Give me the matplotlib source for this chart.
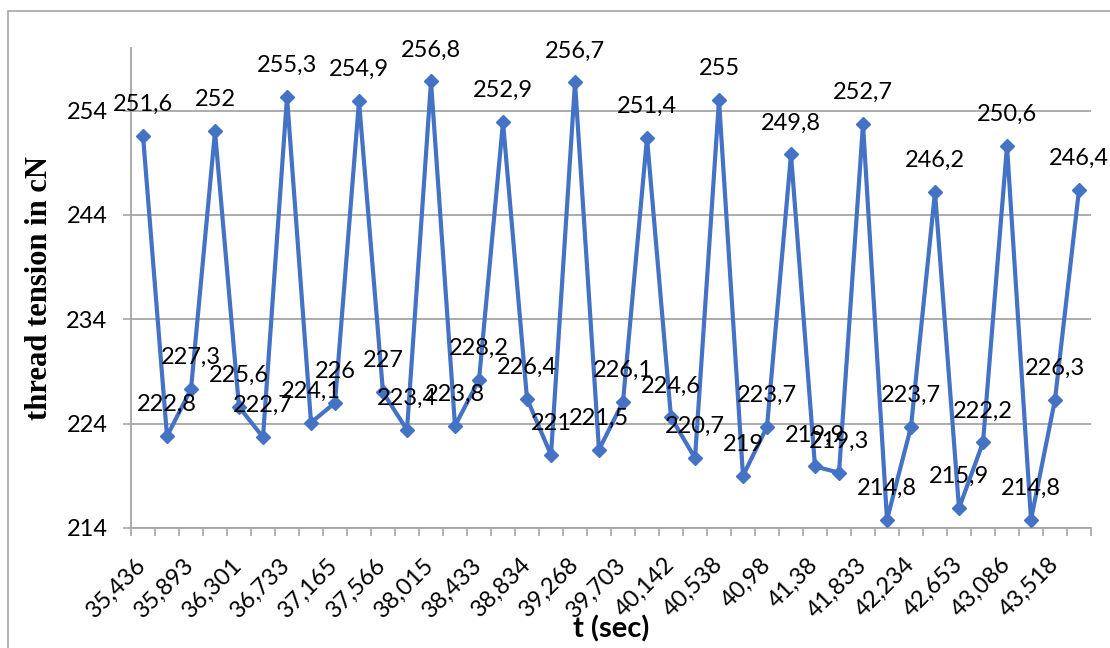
import matplotlib
matplotlib.use("Agg")
import matplotlib.pyplot as plt
from matplotlib.patches import Rectangle
from matplotlib.ticker import FixedLocator, NullFormatter

# Thread tension measured over time
tension = [251.6, 222.8, 227.3, 252.0, 225.6, 222.7, 255.3, 224.1, 226.0, 254.9,
           227.0, 223.4, 256.8, 223.8, 228.2, 252.9, 226.4, 221.0, 256.7, 221.5,
           226.1, 251.4, 224.6, 220.7, 255.0, 219.0, 223.7, 249.8, 219.9, 219.3,
           252.7, 214.8, 223.7, 246.2, 215.9, 222.2, 250.6, 214.8, 226.3, 246.4]

# Time labels shown on every second category
time_labels = ["35,436", "35,893", "36,301", "36,733", "37,165", "37,566", "38,015",
               "38,433", "38,834", "39,268", "39,703", "40,142", "40,538", "40,98",
               "41,38", "41,833", "42,234", "42,653", "43,086", "43,518"]

y_ticks = [214, 224, 234, 244, 254]

BLUE = "#4472C4"
GRID = "#A6A6A6"
W, H = 1110, 648
FS = 17

plt.rcParams["font.family"] = ["Lato", "DejaVu Sans"]

fig = plt.figure(figsize=(W / 100, H / 100), dpi=100)
fig.patch.set_facecolor("white")

# outer chart border (left and top visible)
fig.add_artist(Rectangle((8 / W, -0.1), 1.2, 1 - 11 / H + 0.1,
                         transform=fig.transFigure, fill=False,
                         edgecolor=GRID, linewidth=1.2))

left, right = 131 / W, 1091 / W
top, bottom = 1 - 48 / H, 1 - 528 / H
ax = fig.add_axes([left, bottom, right - left, top - bottom])

x = list(range(len(tension)))
ax.plot(x, tension, color=BLUE, linewidth=3.0, marker="D", markersize=7,
        markerfacecolor=BLUE, markeredgecolor=BLUE, zorder=3, clip_on=False)

for xi, v in zip(x, tension):
    txt = f"{v:g}".replace(".", ",")
    ax.annotate(txt, (xi, v), xytext=(0, 18), textcoords="offset points",
                ha="center", va="baseline", fontsize=FS, color="black",
                zorder=4, annotation_clip=False)

ax.set_xlim(-0.5, len(tension) - 0.5)
ax.set_ylim(214, 260)

# y axis
ax.set_yticks(y_ticks)
ax.set_yticklabels([str(t) for t in y_ticks], fontsize=FS)
ax.tick_params(axis="y", direction="out", length=6, width=1.2, color=GRID, pad=11)
ax.yaxis.grid(True, color=GRID, linewidth=1.3)
ax.set_axisbelow(True)

# x axis: labels on every second category, tick marks between categories
ax.xaxis.set_major_locator(FixedLocator(x[::2]))
ax.set_xticklabels(time_labels, fontsize=FS, rotation=45, ha="right",
                   va="center", rotation_mode="anchor")
ax.xaxis.set_minor_locator(FixedLocator([i - 0.5 for i in range(len(tension) + 1)]))
ax.xaxis.set_minor_formatter(NullFormatter())
ax.tick_params(axis="x", which="major", length=0, pad=24)
ax.tick_params(axis="x", which="minor", direction="out", length=6, width=1.2,
               color=GRID)

for side in ("top", "right"):
    ax.spines[side].set_visible(False)
for side in ("left", "bottom"):
    ax.spines[side].set_color(GRID)
    ax.spines[side].set_linewidth(1.3)

ax.set_ylabel("thread tension in cN", fontsize=22, fontweight="bold",
              family=["Liberation Serif"], labelpad=9)
ax.set_xlabel("t (sec)", fontsize=21, fontweight="bold", labelpad=-4)

fig.savefig("out.png", dpi=100, facecolor="white")
